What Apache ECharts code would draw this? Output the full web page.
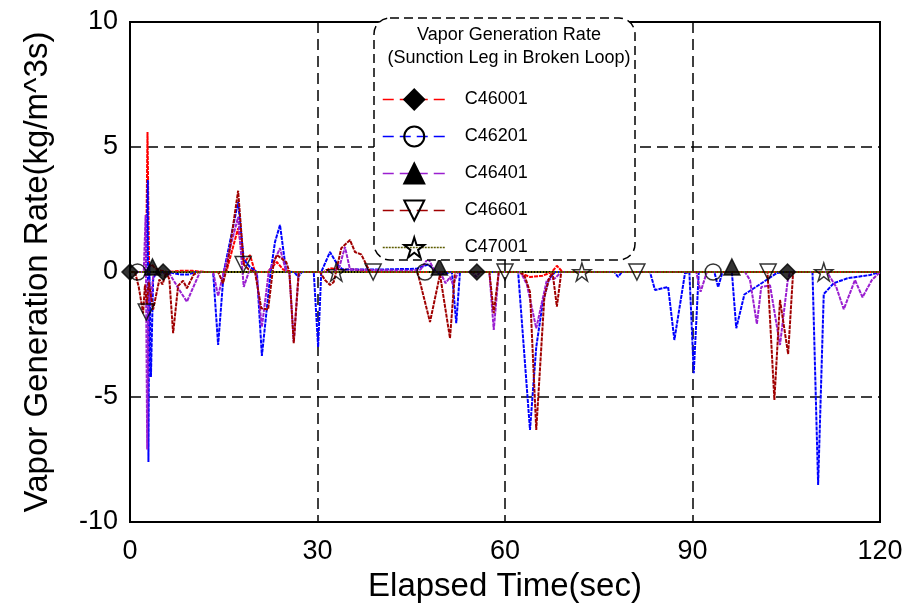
<!DOCTYPE html>
<html>
<head>
<meta charset="utf-8">
<script src="https://cdn.jsdelivr.net/npm/echarts@6/dist/echarts.min.js"></script>
<style>
html,body{margin:0;padding:0;background:#fff;}
#chart{width:912px;height:615px;}
</style>
</head>
<body>
<div id="chart"></div>
<script>
// ---- data (time [s], vapor generation rate [kg/m^3s]) ----
const seriesNames = ['C46001', 'C46201', 'C46401', 'C46601', 'C47001'];
const xTicks = [0, 30, 60, 90, 120];
const yTicks = [-10, -5, 0, 5, 10];

const c46001 = [[0,0],[1,0],[2,0],[2.55,0],[2.8,5.6],[3.05,0.2],[3.5,0.3],[4,0.15],[5,0.05],[6,0],[8,0.05],[10,0.05],[12,0],[15.4,0],[17.3,1.75],[18.2,0.35],[19.2,0.68],[20,0],[22,0],[23.5,0.4],[24.5,0.1],[26,0],[31,0],[32,0.15],[34,0.1],[36,0.1],[38,0],[62,0],[64,-0.2],[66,-0.15],[67.5,0],[68.3,0.25],[69.2,0],[120,0]];

const c46201 = [[0,0],[1,0],[2,0],[2.6,0],[2.85,3.68],[2.95,-7.6],[3.1,0.3],[3.35,-4.2],[3.7,-0.3],[4.2,0],[5,0],[6,0],[8,-0.1],[9.3,-0.1],[10.5,0],[13.3,0],[14.1,-2.92],[15,0],[17.3,2.8],[18.2,0.5],[19.2,0.2],[20.3,0],[21.1,-3.36],[22.5,0],[23.2,1.2],[24,1.88],[25,0],[26.3,0],[26.9,-0.2],[27.5,0],[29.4,0],[30.1,-3.0],[30.6,0],[32,0.8],[33.1,0.33],[34,0.1],[36,0.1],[40,0.1],[45.9,0.13],[47.7,0.3],[49.6,-0.1],[51.5,0],[52.2,-2.05],[52.8,0],[55,0],[62.1,0],[64,-6.32],[65,-3.0],[66,-1.3],[67,-0.3],[68,0],[77.5,0],[78.1,-0.2],[78.7,0],[83.2,0],[84,-0.72],[86.1,-0.6],[87.1,-2.72],[88.8,-0.05],[89.5,0],[90.2,-4.05],[91,0],[93.5,0],[94.1,-0.61],[94.8,0],[96.3,0],[97,-2.25],[98.3,-0.9],[101.1,-0.44],[103.5,-0.04],[104.8,0],[109.2,0],[110.1,-8.52],[111,-0.88],[112.6,-0.45],[114.8,-0.25],[118.4,-0.12],[120,0]];

const c46401 = [[0,0],[2.2,0],[2.5,2.28],[2.75,-7.1],[3.0,-0.3],[3.3,-1.2],[3.7,-0.2],[4.5,0],[6.4,-0.1],[7.9,-0.72],[9.1,-1.19],[11.2,0],[13.3,0],[14.1,-0.96],[15,0],[17.3,2.2],[18.2,-0.6],[19,0],[20.2,0],[21.1,-2.2],[22.2,0],[23,0.4],[24,0.95],[25,0],[25.5,0],[26.2,-2.8],[27,0],[32.5,0],[33.5,0.2],[34.4,1.0],[35.2,0.1],[45,0.05],[46.5,0.1],[47.7,0.55],[48.8,0],[49.6,0],[50.5,-0.45],[51.2,-0.2],[51.7,-0.5],[52.5,0],[54.8,0],[55.4,-0.2],[56,0],[57.5,0],[58.2,-2.32],[59,0],[62.5,0],[63.5,-0.5],[65,-2.25],[66.7,-0.32],[68,-0.25],[69,0],[90.6,0],[91.3,-0.79],[92.3,0],[98.4,0],[99.2,-0.32],[100.3,-2.08],[101,-0.6],[102.4,-0.53],[104,-2.92],[105.2,-0.4],[105.6,0],[111.5,0],[113,-0.6],[114.2,-1.49],[116,-0.32],[117.2,-1.01],[118.7,-0.32],[120,0]];

const c46601 = [[0,0],[0.8,0],[1.4,-0.6],[2.1,-1.65],[2.4,-0.5],[2.7,-1.3],[3.0,-0.4],[3.7,-1.5],[4.2,-0.9],[4.7,-0.3],[5.2,-0.5],[5.8,0],[6.3,-0.3],[6.9,-2.45],[7.7,-0.55],[8.5,-0.35],[9.1,-0.65],[10.2,-0.1],[11,0],[14.1,0],[14.9,-0.45],[15.6,0.3],[17.3,3.25],[18.2,0.3],[19,0.1],[20,0],[21,-1.45],[22.1,-1.5],[23,0.4],[23.5,0.68],[25,0.4],[25.5,0],[26.2,-2.85],[27,0],[30.4,0],[31.2,-0.32],[32,-0.52],[32.6,-0.4],[33.8,0.95],[35.2,1.28],[36,0.8],[37,0.7],[38,0.2],[38.5,0],[46,0],[48,-2.0],[49.6,-0.1],[51.2,-2.65],[52,0],[57.5,0],[58.2,-1.65],[59,0],[62.5,0],[63.2,-0.2],[64,-0.8],[65,-6.32],[66.3,-1.0],[67,-0.3],[67.6,0],[68.3,-1.39],[69,0],[102,0],[103.1,-5.12],[104,-1.12],[105.3,-3.28],[106.1,0],[120,0]];

const c47001 = [[0,0],[30,0],[60,0],[90,0],[120,0]];

// marker positions (sparse symbols drawn on each curve)
const mk46001 = [[0,0],[5.3,0],[55.5,0],[105.2,0]];
const mk46201 = [[1.2,0],[47.2,0],[93.3,0]];
const mk46401 = [[3.6,0.2],[49.5,0.2],[96.3,0.2]];
const mk46601 = [[2.6,-1.6],[18.1,0.3],[38.9,0],[60,0],[81.1,0],[102.1,0]];
const mk47001 = [[33,0],[72.3,0],[111,0]];

const starPath = 'path://M50,0 L61.2,34.5 L97.6,34.5 L68.2,55.9 L79.4,90.5 L50,69.1 L20.6,90.5 L31.8,55.9 L2.4,34.5 L38.8,34.5 Z';

const lineColors = ['#ff0000', '#0000ff', '#9a1fd0', '#a00000', '#5c5c00'];
const symbols = ['diamond', 'circle', 'triangle', 'triangle', starPath];
const symbolRot = [0, 0, 0, 180, 0];
const symbolFill = ['#000', 'rgba(255,255,255,0)', '#000', 'rgba(255,255,255,0)', 'rgba(255,255,255,0)'];
const curves = [c46001, c46201, c46401, c46601, c47001];
const marks = [mk46001, mk46201, mk46401, mk46601, mk47001];

const FONT = "'Liberation Sans', Arial, sans-serif";

const series = [];
curves.forEach((d, i) => {
  series.push({
    name: seriesNames[i],
    type: 'line',
    data: d,
    symbol: symbols[i],
    symbolRotate: symbolRot[i],
    symbolSize: 16,
    showSymbol: false,
    animation: false,
    itemStyle: { color: symbolFill[i], borderColor: '#000', borderWidth: 1.5 },
    lineStyle: { color: lineColors[i], width: 2, type: i === 4 ? [2, 1] : [4, 1] },
    z: 2 + i
  });
});
marks.forEach((d, i) => {
  series.push({
    name: seriesNames[i],
    type: 'scatter',
    data: d,
    symbol: symbols[i],
    symbolRotate: symbolRot[i],
    symbolSize: i === 4 ? 18 : 16,
    animation: false,
    itemStyle: { color: symbolFill[i], borderColor: '#000', borderWidth: 1.5 },
    z: 8
  });
});

const chart = echarts.init(document.getElementById('chart'), null, { renderer: 'canvas' });
chart.setOption({
  backgroundColor: '#fff',
  animation: false,
  textStyle: { fontFamily: FONT },
  grid: { left: 130, right: 32, top: 22, bottom: 93, show: true, borderColor: '#000', borderWidth: 2, containLabel: false },
  title: {
    text: 'Vapor Generation Rate\n(Sunction Leg in Broken Loop)',
    left: 504, top: 19, textAlign: 'center', z: 20,
    textStyle: { fontSize: 18, fontWeight: 'normal', color: '#000', lineHeight: 23, fontFamily: FONT }
  },
  graphic: [{
    type: 'rect', z: 15, silent: true,
    shape: { x: 374, y: 18, width: 261, height: 242, r: 16 },
    style: { fill: '#fff', stroke: '#000', lineWidth: 1.5, lineDash: [9, 5] }
  }],
  legend: {
    orient: 'vertical', left: 377, top: 82, z: 20,
    itemWidth: 63, itemHeight: 25, itemGap: 12,
    textStyle: { fontSize: 18, color: '#000', fontFamily: FONT, padding: [0, 0, 0, 14], lineHeight: 25 },
    data: seriesNames.map((n, i) => ({
      name: n,
      lineStyle: { color: lineColors[i], width: 1.5, type: i === 4 ? [2, 1] : [11, 6] }
    })),
    selectedMode: false
  },
  xAxis: {
    type: 'value', min: 0, max: 120, interval: 30,
    name: 'Elapsed Time(sec)', nameLocation: 'middle', nameGap: 48,
    nameTextStyle: { fontSize: 33, color: '#000', fontFamily: FONT },
    axisLine: { show: true, lineStyle: { color: '#000', width: 2 } },
    axisTick: { show: false },
    axisLabel: { fontSize: 27, color: '#000', margin: 16, fontFamily: FONT },
    splitLine: { show: true, lineStyle: { color: '#000', width: 1.5, type: [11, 6] } }
  },
  yAxis: {
    type: 'value', min: -10, max: 10, interval: 5,
    name: 'Vapor Generation Rate(kg/m^3s)', nameLocation: 'middle', nameGap: 76,
    nameTextStyle: { fontSize: 33, color: '#000', fontFamily: FONT },
    axisLine: { show: true, lineStyle: { color: '#000', width: 2 } },
    axisTick: { show: false },
    axisLabel: { fontSize: 27, color: '#000', margin: 12, fontFamily: FONT },
    splitLine: { show: true, lineStyle: { color: '#000', width: 1.5, type: [11, 6] } }
  },
  series: series
});
</script>
</body>
</html>
